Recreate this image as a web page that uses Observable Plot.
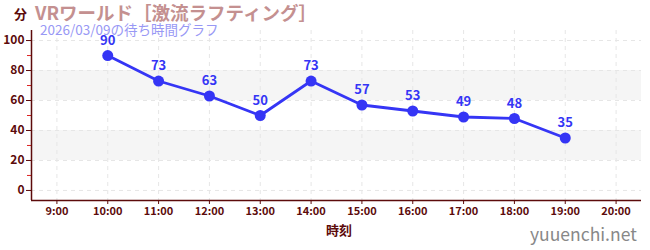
<!DOCTYPE html>
<html>
<head>
<meta charset="utf-8">
<script src="https://cdn.jsdelivr.net/npm/d3@7"></script>
<script src="https://cdn.jsdelivr.net/npm/@observablehq/plot@0.6"></script>
<style>
  html, body { margin: 0; padding: 0; background: #fff; }
  #wrap { position: relative; width: 650px; height: 250px; font-family: "Noto Sans CJK JP", "Noto Sans", sans-serif; }
  .t { position: absolute; white-space: nowrap; line-height: 1.2; }
</style>
</head>
<body>
<div id="wrap"></div>
<script>
const hours = [10, 11, 12, 13, 14, 15, 16, 17, 18, 19];
const waits = [90, 73, 63, 50, 73, 57, 53, 49, 48, 35];
const xTicks = [9, 10, 11, 12, 13, 14, 15, 16, 17, 18, 19, 20];
const yTicks = [0, 20, 40, 60, 80, 100];
const yMinor = [10, 30, 50, 70, 90];
const bands = [{y1: 20, y2: 40}, {y1: 60, y2: 80}];
const title = "VRワールド［激流ラフティング］";
const subtitle = "2026/03/09の待ち時間グラフ";
const yLabel = "分";
const xLabel = "時刻";
const credit = "yuuenchi.net";

const data = hours.map((h, i) => ({h, w: waits[i]}));
const dark = "#5c0b0b";
const blue = "#3535f5";

const chart = Plot.plot({
  width: 650,
  height: 250,
  marginLeft: 31,
  marginRight: 9,
  marginTop: 30,
  marginBottom: 50,
  style: {fontFamily: "'Noto Sans CJK JP', sans-serif", background: "transparent"},
  x: {domain: [8.5, 20.5], axis: null},
  y: {domain: [-6.7, 106.7], axis: null},
  marks: [
    Plot.rectY(bands, {y1: "y1", y2: "y2", fill: "#f5f5f5"}),
    Plot.gridX(xTicks, {stroke: "#e6e6e6", strokeOpacity: 1, strokeDasharray: "4,4"}),
    Plot.gridY(yTicks, {stroke: "#e6e6e6", strokeOpacity: 1, strokeDasharray: "4,4"}),
    Plot.axisY(yMinor, {tickSize: 4, stroke: "#dd2222", text: null, strokeWidth: 1}),
    Plot.axisY(yTicks, {tickSize: 5, stroke: dark, fill: dark, fontSize: 12, fontWeight: "bold", tickPadding: 2, label: null, strokeWidth: 1}),
    Plot.axisX(xTicks, {tickSize: 4, stroke: dark, fill: dark, fontSize: 11, fontWeight: "bold", tickPadding: 3, label: null, tickFormat: d => d + ":00"}),
    Plot.ruleX([8.5], {stroke: dark, strokeWidth: 1.5}),
    Plot.ruleY([-6.7], {stroke: dark, strokeWidth: 1.5}),
    Plot.line(data, {x: "h", y: "w", stroke: blue, strokeWidth: 2.8}),
    Plot.dot(data, {x: "h", y: "w", r: 5.5, fill: blue, stroke: "none"}),
    Plot.text(data, {x: "h", y: "w", text: d => String(d.w), dy: -15, fill: blue, fontSize: 13, fontWeight: "bold"})
  ]
});
const wrap = document.getElementById("wrap");
wrap.appendChild(chart);

function add(text, css) {
  const s = document.createElement("span");
  s.className = "t";
  s.textContent = text;
  Object.assign(s.style, css);
  wrap.appendChild(s);
}
add(yLabel, {left: "14px", top: "6px", fontSize: "13px", fontWeight: "bold", color: dark});
add(title, {left: "35px", top: "1px", fontSize: "18.5px", fontWeight: "bold", color: "#c49090"});
add(subtitle, {left: "40px", top: "21px", fontSize: "13.5px", color: "#9898f5"});
add(xLabel, {left: "326px", top: "222px", fontSize: "13px", fontWeight: "bold", color: dark});
add(credit, {left: "530px", top: "223px", fontSize: "17.5px", color: "#888888"});
</script>
</body>
</html>
